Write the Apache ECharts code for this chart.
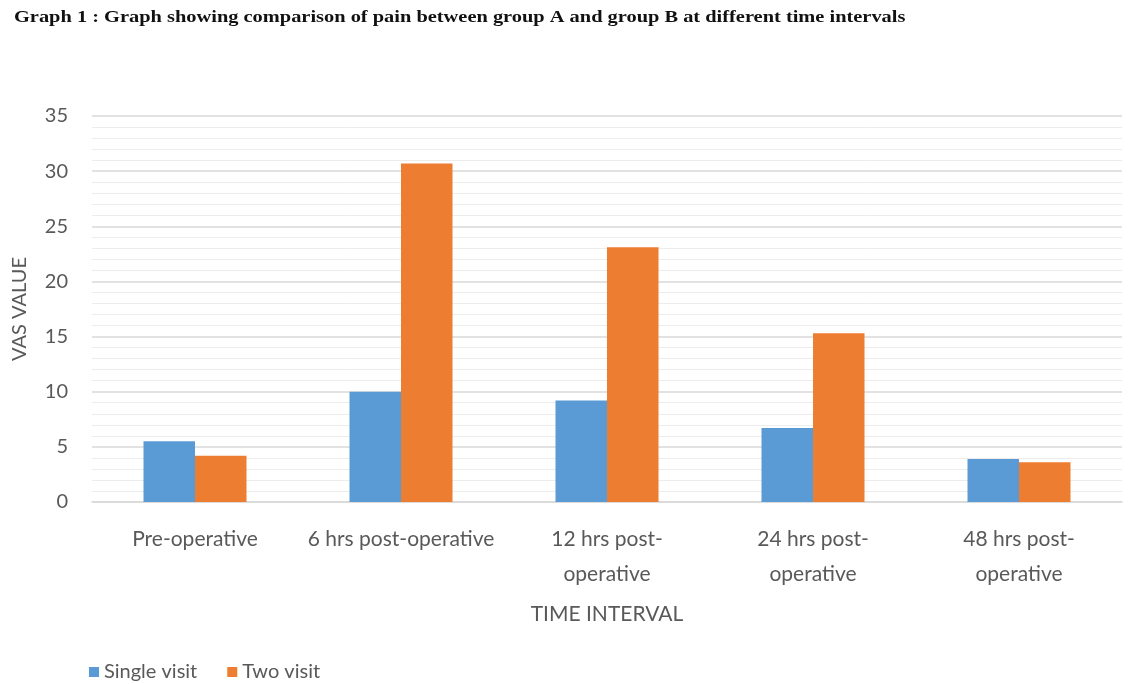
<!DOCTYPE html>
<html>
<head>
<meta charset="utf-8">
<script src="https://cdn.jsdelivr.net/npm/echarts@6/dist/echarts.min.js"></script>
<style>
  html, body { margin: 0; padding: 0; background: #fff; }
  #chart { width: 1138px; height: 684px; }
</style>
</head>
<body>
<div id="chart"></div>
<script>
const categories = [
  'Pre-operative',
  '6 hrs post-operative',
  '12 hrs post-\noperative',
  '24 hrs post-\noperative',
  '48 hrs post-\noperative'
]
const singleVisit = [5.5, 10.0, 9.2, 6.7, 3.9]
const twoVisit = [4.2, 30.7, 23.1, 15.3, 3.6]

const labelFont = 'Lato, "Open Sans", sans-serif'
const gray = '#595959'

const chart = echarts.init(document.getElementById('chart'))
chart.setOption({
  animation: false,
  // title text is stretched sideways a bit, like the scanned figure
  graphic: [
    {
      type: 'text',
      x: 14,
      y: 9,
      scaleX: 1.2,
      style: {
        text: 'Graph 1 : Graph showing comparison of pain between group A and group B at different time intervals',
        font: 'bold 17px "Liberation Serif", "Times New Roman", serif',
        fill: '#111'
      }
    }
  ],
  legend: {
    left: 84,
    top: 657,
    itemWidth: 10,
    itemHeight: 10,
    itemGap: 30,
    icon: 'rect',
    textStyle: { color: gray, fontSize: 20, fontFamily: labelFont },
    data: ['Single visit', 'Two visit']
  },
  grid: { left: 92, right: 16, top: 116, bottom: 182 },
  xAxis: {
    type: 'category',
    data: categories,
    name: 'TIME INTERVAL',
    nameLocation: 'middle',
    nameGap: 102,
    nameTextStyle: { color: gray, fontSize: 21, fontFamily: labelFont },
    axisLine: { lineStyle: { color: '#d9d9d9', width: 1.5 } },
    axisTick: { show: false },
    axisLabel: {
      color: gray,
      fontSize: 21,
      fontFamily: labelFont,
      lineHeight: 35,
      margin: 20,
      interval: 0
    }
  },
  yAxis: {
    type: 'value',
    min: 0,
    max: 35,
    interval: 5,
    name: 'VAS VALUE',
    nameLocation: 'middle',
    nameGap: 62,
    nameTextStyle: { color: gray, fontSize: 20, fontFamily: labelFont },
    axisLine: { show: false },
    axisTick: { show: false },
    axisLabel: { color: gray, fontSize: 20, fontFamily: labelFont, margin: 24 },
    splitLine: { lineStyle: { color: '#d9d9d9', width: 1.5 } },
    minorTick: { show: false, splitNumber: 5 },
    minorSplitLine: { show: true, lineStyle: { color: '#ececec', width: 1 } }
  },
  series: [
    {
      name: 'Single visit',
      type: 'bar',
      data: singleVisit,
      barGap: '0%',
      barCategoryGap: '50%',
      itemStyle: { color: '#5b9bd5' }
    },
    {
      name: 'Two visit',
      type: 'bar',
      data: twoVisit,
      itemStyle: { color: '#ed7d31' }
    }
  ]
})
</script>
</body>
</html>
